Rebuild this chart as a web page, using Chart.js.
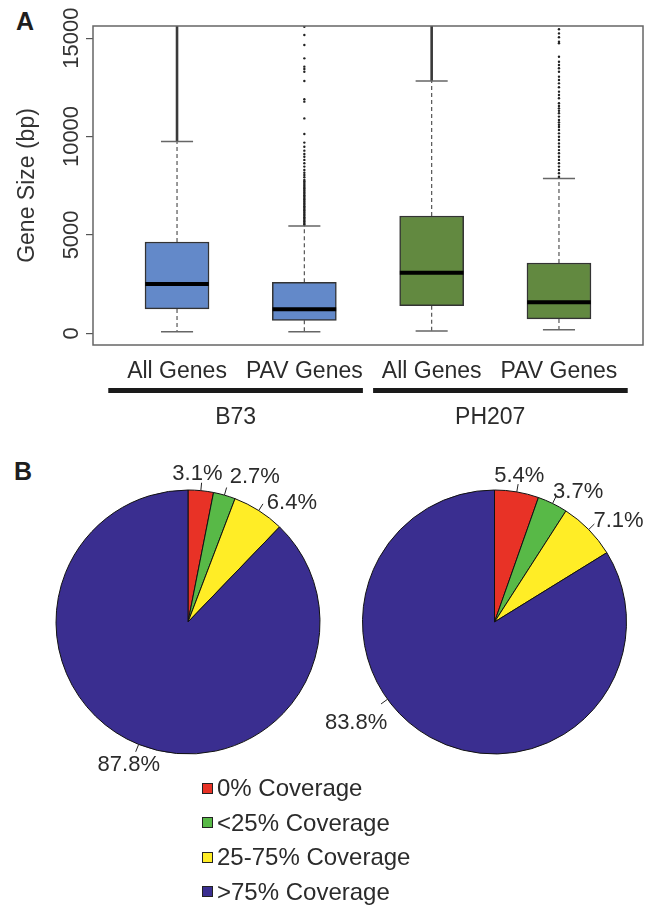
<!DOCTYPE html>
<html lang="en">
<head>
<meta charset="UTF-8">
<title>Gene size and read coverage - B73 / PH207</title>
<script src="https://cdn.jsdelivr.net/npm/chart.js@4.4.1/dist/chart.umd.min.js"></script>
<style>
    html, body {
        margin: 0;
        padding: 0;
        background: #ffffff;
    }
    body {
        width: 656px;
        height: 905px;
        position: relative;
        overflow: hidden;
        font-family: "Liberation Sans", Arial, sans-serif;
        color: #2b2b2b;
    }
    .panel-label {
        position: absolute;
        font-weight: bold;
        font-size: 25px;
        line-height: 1;
        color: #1e1e1e;
    }
    #boxWrap { position: absolute; left: 0; top: 0; }
    #pieLeftWrap { position: absolute; left: 0; top: 450px; }
    #pieRightWrap { position: absolute; left: 310px; top: 450px; }
    #legend { position: absolute; left: 202px; top: 771px; }
    .legend-row {
        display: flex;
        align-items: center;
        height: 34.5px;
        font-size: 24px;
        white-space: nowrap;
    }
    .legend-swatch {
        width: 9px;
        height: 9px;
        border: 1px solid #222;
        margin-right: 4px;
    }
</style>
</head>
<body>

<div class="panel-label" style="left:16px; top:9px;">A</div>
<div class="panel-label" style="left:14px; top:459px;">B</div>

<!-- Panel A: box plots -->
<div id="boxWrap"><canvas id="boxChart" width="656" height="440"></canvas></div>

<!-- Panel B: pies -->
<div id="pieLeftWrap"><canvas id="pieB73" width="376" height="344"></canvas></div>
<div id="pieRightWrap"><canvas id="piePH207" width="369" height="344"></canvas></div>

<div id="legend"></div>

<script>
    // ---- data: gene size box plots ----
    const cats = ['All Genes', 'PAV Genes', 'All Genes', 'PAV Genes'];
    const groups = ['B73', 'PH207'];
    const groupFirst = [1, 3];
    const groupLast = [2, 4];

    const loWhisker = [80, 80, 120, 180];
    const q1 = [1240, 660, 1400, 730];
    const median = [2500, 1220, 3080, 1580];
    const q3 = [4640, 2590, 5960, 3570];
    const hiWhisker = [9740, 5450, 12820, 7860];
    // outliers so dense they merge into a solid line, from this value up past the top
    const denseOutliersFrom = [9740, null, 12820, null];

    const outliersB73PAV = [15580, 15160, 14650, 13970, 13550, 13430, 13290, 12820, 11890, 11770,
        10920, 10130, 9690, 9480, 9280, 9110, 8970, 8810, 8640, 8470, 8300, 8160, 8040, 7930,
        7790, 7720, 7650, 7580, 7510, 7440, 7370, 7300, 7230, 7160, 7090, 7020, 6950, 6880,
        6810, 6740, 6670, 6600, 6530, 6460, 6390, 6320, 6250, 6180, 6110, 6040, 5970, 5900,
        5830, 5760, 5690, 5620, 5550, 5500];
    const outliersPH207PAV = [15450, 15240, 15040, 14820, 14740, 14050, 13800, 13630, 13470, 13290,
        13040, 12870, 12700, 12500, 12280, 12110, 11940, 11690, 11550, 11430, 11310, 11180,
        11010, 10840, 10720, 10600, 10480, 10330, 10160, 9990, 9820, 9650, 9480, 9310, 9150,
        8970, 8810, 8640, 8470, 8300, 8130, 7960, 7900];

    const yTicks = [0, 5000, 10000, 15000];

    // ---- data: coverage pies ----
    const coverage = ['0% Coverage', '<25% Coverage', '25-75% Coverage', '>75% Coverage'];
    const coverageB73 = [3.1, 2.7, 6.4, 87.8];
    const coveragePH207 = [5.4, 3.7, 7.1, 83.8];

    // ---- style ----
    const FONT = '"Liberation Sans", Arial, sans-serif';
    const TEXT = '#2b2b2b';
    const boxColors = ['#6389C9', '#6389C9', '#628940', '#628940'];
    const pieColors = ['#E83226', '#58B947', '#FFED26', '#3A2E90'];
    const X_MIN = 0.34, X_MAX = 4.66;
    const Y_MIN = -595, Y_MAX = 15615;
    const boxHalf = 0.25, capHalf = 0.126;
    const PIE_R = 132;
    // per label: [angle shift (deg), dx, dy] – hand placement like the original figure
    const nudgeB73 = [[0, -6, 10], [0, 23, 7], [0, 19, 15], [0, 0, -4]];
    const nudgePH207 = [[0, -2, 10], [0, 14, 12], [0, 11, 10], [25, -10, 8]];

    Chart.defaults.font.family = FONT;
    Chart.defaults.color = TEXT;

    // build segment lists; a null point breaks the line between pieces
    const seg = pieces => pieces.flatMap(p => [p[0], p[1], { x: p[0].x, y: null }]);
    const idx = cats.map((c, i) => i + 1);

    const boxData = idx.map((x, i) => ({ x: x, y: [q1[i], q3[i]] }));
    const whiskerData = seg(idx.flatMap((x, i) => [
        [{ x: x, y: q3[i] }, { x: x, y: hiWhisker[i] }],
        [{ x: x, y: q1[i] }, { x: x, y: loWhisker[i] }]
    ]));
    const capData = seg(idx.flatMap((x, i) => [
        [{ x: x - capHalf, y: hiWhisker[i] }, { x: x + capHalf, y: hiWhisker[i] }],
        [{ x: x - capHalf, y: loWhisker[i] }, { x: x + capHalf, y: loWhisker[i] }]
    ]));
    const medianData = seg(idx.map((x, i) => [{ x: x - boxHalf, y: median[i] }, { x: x + boxHalf, y: median[i] }]));
    const denseData = seg(idx.filter((x, i) => denseOutliersFrom[i] !== null)
        .map(x => [{ x: x, y: denseOutliersFrom[x - 1] }, { x: x, y: Y_MAX }]));
    const outlierData = outliersB73PAV.map(v => ({ x: 2, y: v }))
        .concat(outliersPH207PAV.map(v => ({ x: 4, y: v })));

    // frame around the plot region (R style box())
    const frame = {
        id: 'frame',
        afterDraw(chart) {
            const a = chart.chartArea, c = chart.ctx;
            c.save();
            c.strokeStyle = '#666';
            c.lineWidth = 1.5;
            c.strokeRect(a.left, a.top, a.right - a.left, a.bottom - a.top);
            c.restore();
        }
    };

    // thick bars under the category labels marking each line; small gap between groups
    const groupBars = {
        id: 'groupBars',
        afterDraw(chart) {
            const s = chart.scales.xg, c = chart.ctx;
            const gap = 0.04;
            c.save();
            c.strokeStyle = '#1a1a1a';
            c.lineWidth = 5;
            groups.forEach((g, k) => {
                const x0 = s.getPixelForValue(groupFirst[k] - 0.5 + (k > 0 ? gap : -gap));
                const x1 = s.getPixelForValue(groupLast[k] + 0.5 + (k < groups.length - 1 ? -gap : gap));
                c.beginPath();
                c.moveTo(x0, s.top + 5.5);
                c.lineTo(x1, s.top + 5.5);
                c.stroke();
            });
            c.restore();
        }
    };

    new Chart(document.getElementById('boxChart'), {
        type: 'bar',
        data: {
            datasets: [
                { type: 'line', data: whiskerData, borderColor: '#555', borderWidth: 1.2, borderDash: [4, 3],
                  pointRadius: 0, spanGaps: false, order: 6 },
                { type: 'line', data: denseData, borderColor: '#3a3a3a', borderWidth: 2.6,
                  pointRadius: 0, spanGaps: false, order: 5 },
                { type: 'bar', data: boxData, backgroundColor: boxColors, borderColor: '#333',
                  borderWidth: 1.5, borderSkipped: false, barThickness: 64, order: 4 },
                { type: 'scatter', data: outlierData, backgroundColor: '#222', borderWidth: 0,
                  pointRadius: 1.2, order: 3 },
                { type: 'line', data: capData, borderColor: '#666', borderWidth: 1.5,
                  pointRadius: 0, spanGaps: false, order: 2 },
                { type: 'line', data: medianData, borderColor: '#000', borderWidth: 4,
                  pointRadius: 0, spanGaps: false, order: 1 }
            ]
        },
        options: {
            responsive: false,
            animation: false,
            events: [],
            layout: { padding: { top: 26, right: 13, left: 0, bottom: 0 } },
            plugins: { legend: { display: false }, tooltip: { enabled: false } },
            scales: {
                x: {
                    type: 'linear', min: X_MIN, max: X_MAX, offset: false, weight: 0,
                    afterBuildTicks: s => { s.ticks = idx.map(v => ({ value: v })); },
                    afterFit: s => { s.height = 40; },
                    ticks: { autoSkip: false, minRotation: 0, maxRotation: 0, padding: 4.5,
                             font: { size: 23 }, color: TEXT, callback: (v, i) => cats[i] },
                    grid: { display: false },
                    border: { display: false }
                },
                xg: {
                    type: 'linear', position: 'bottom', min: X_MIN, max: X_MAX, offset: false, weight: 1,
                    afterBuildTicks: s => {
                        s.ticks = groups.map((g, k) => ({ value: (groupFirst[k] + groupLast[k]) / 2 - 0.04 }));
                    },
                    afterFit: s => { s.height = 55; },
                    ticks: { autoSkip: false, minRotation: 0, maxRotation: 0, padding: 10.5,
                             font: { size: 23 }, color: TEXT, callback: (v, i) => groups[i] },
                    grid: { display: false },
                    border: { display: false }
                },
                y: {
                    type: 'linear', min: Y_MIN, max: Y_MAX,
                    afterBuildTicks: s => { s.ticks = yTicks.map(v => ({ value: v })); },
                    afterFit: s => { s.width = 93; },
                    ticks: { minRotation: 90, maxRotation: 90, crossAlign: 'center', padding: -17,
                             font: { size: 22 }, color: '#333', callback: v => String(v) },
                    grid: { drawOnChartArea: false, drawTicks: true, tickLength: 7, color: '#555', lineWidth: 1.2 },
                    border: { display: false },
                    title: { display: true, text: 'Gene Size (bp)', font: { size: 23 }, color: '#333',
                             padding: { top: 14, bottom: 0 } }
                }
            }
        },
        plugins: [frame, groupBars]
    });

    // percentage labels outside the pies, with a short leader tick
    const pieLabels = {
        id: 'pieLabels',
        afterDatasetsDraw(chart, args, opts) {
            const c = chart.ctx;
            const meta = chart.getDatasetMeta(0);
            const vals = chart.data.datasets[0].data;
            c.save();
            c.font = '22px ' + FONT;
            c.fillStyle = TEXT;
            c.strokeStyle = '#222';
            c.lineWidth = 1;
            c.textAlign = 'center';
            c.textBaseline = 'middle';
            meta.data.forEach((arc, i) => {
                const p = arc.getProps(['x', 'y', 'startAngle', 'endAngle', 'outerRadius'], true);
                const n = opts.nudges[i];
                const a = (p.startAngle + p.endAngle) / 2 + n[0] * Math.PI / 180;
                const r = p.outerRadius;
                c.beginPath();
                c.moveTo(p.x + r * Math.cos(a), p.y + r * Math.sin(a));
                c.lineTo(p.x + r * 1.06 * Math.cos(a), p.y + r * 1.06 * Math.sin(a));
                c.stroke();
                const tx = p.x + r * 1.2 * Math.cos(a) + n[1];
                const ty = p.y + r * 1.2 * Math.sin(a) + n[2];
                c.fillText(vals[i].toFixed(1) + '%', tx, ty);
            });
            c.restore();
        }
    };

    function makePie(id, values, nudges) {
        return new Chart(document.getElementById(id), {
            type: 'pie',
            data: {
                labels: coverage,
                datasets: [{ data: values, backgroundColor: pieColors, borderColor: '#111',
                             borderWidth: 1, hoverOffset: 0 }]
            },
            options: {
                responsive: false,
                animation: false,
                events: [],
                radius: PIE_R,
                layout: { padding: 0 },
                plugins: { legend: { display: false }, tooltip: { enabled: false }, pieLabels: { nudges: nudges } }
            },
            plugins: [pieLabels]
        });
    }

    makePie('pieB73', coverageB73, nudgeB73);
    makePie('piePH207', coveragePH207, nudgePH207);

    // shared legend for both pies
    const legend = document.getElementById('legend');
    coverage.forEach((label, i) => {
        const row = document.createElement('div');
        row.className = 'legend-row';
        const sw = document.createElement('span');
        sw.className = 'legend-swatch';
        sw.style.background = pieColors[i];
        const tx = document.createElement('span');
        tx.textContent = label;
        row.appendChild(sw);
        row.appendChild(tx);
        legend.appendChild(row);
    });
</script>
</body>
</html>
